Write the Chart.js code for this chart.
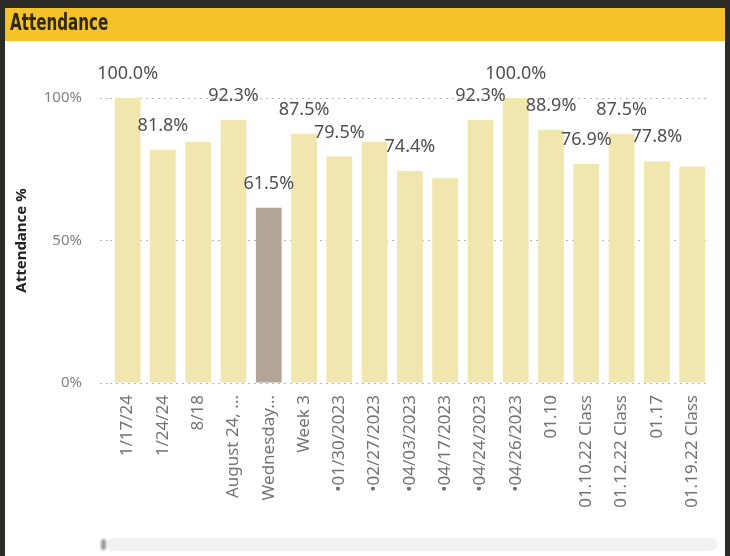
<!DOCTYPE html>
<html>
<head>
<meta charset="utf-8">
<script src="https://cdn.jsdelivr.net/npm/chart.js@4.4.1/dist/chart.umd.min.js"></script>
<style>
    body { margin: 0; background: #2b2b27; }
    #frame { position: relative; width: 730px; height: 556px; background: #2b2b27; overflow: hidden; }
    #panel { position: absolute; left: 5px; top: 8px; width: 720px; height: 548px; background: #fff; }
    #header { position: absolute; left: 0; top: 0; width: 720px; height: 33px; background: #f6c22a; }
    #header span { position: absolute; left: 5px; top: 1px; font-family: "DejaVu Sans Condensed", "DejaVu Sans", sans-serif; font-weight: bold; font-size: 23px; color: #302911; transform-origin: 0 50%; white-space: nowrap; }
    #chartBox { position: absolute; left: 0; top: 33px; width: 720px; height: 490px; }
    #track { position: absolute; left: 102px; top: 530px; width: 610px; height: 13px; background: #f1f1f1; border-radius: 6px; }
    #thumb { position: absolute; left: 96px; top: 531px; width: 5px; height: 11px; background: #9a9a9a; border-radius: 3px; filter: blur(1px); }
</style>
</head>
<body>
<div id="frame">
    <div id="panel">
        <div id="header"><span id="title">Attendance</span></div>
        <div id="chartBox"><canvas id="attendanceChart"></canvas></div>
        <div id="track"></div>
        <div id="thumb"></div>
    </div>
</div>
<script>
// chart data
const labels = ['1/17/24', '1/24/24', '8/18', 'August 24, ...', 'Wednesday...', 'Week 3',
    '•01/30/2023', '•02/27/2023', '•04/03/2023', '•04/17/2023', '•04/24/2023', '•04/26/2023',
    '01.10', '01.10.22 Class', '01.12.22 Class', '01.17', '01.19.22 Class'];
const attendance = [100.0, 81.8, 84.6, 92.3, 61.5, 87.5, 79.5, 84.6, 74.4, 71.8, 92.3, 100.0, 88.9, 76.9, 87.5, 77.8, 76.0];
// which bars have their value label visible
const showLabel = [true, true, false, true, true, true, true, false, true, false, true, true, true, true, true, true, false];
const highlighted = 'Wednesday...';
const yTicks = [0, 50, 100];

// squeeze the header title to the narrow look of the original
const title = document.getElementById('title');
title.style.transform = `scaleX(${98 / title.offsetWidth})`;

const barColors = labels.map(l => l === highlighted ? '#b3a698' : '#f2e6af');

// draws the % labels above the bars
const valueLabels = {
    id: 'valueLabels',
    afterDatasetsDraw(chart) {
        const ctx = chart.ctx;
        const meta = chart.getDatasetMeta(0);
        ctx.save();
        ctx.font = '18px "Noto Sans"';
        ctx.fillStyle = '#505050';
        ctx.textAlign = 'center';
        ctx.textBaseline = 'middle';
        meta.data.forEach((bar, i) => {
            if (!showLabel[i]) return;
            ctx.fillText(attendance[i].toFixed(1) + '%', bar.x, bar.y - 24);
        });
        ctx.restore();
    }
};

const ctx = document.getElementById('attendanceChart').getContext('2d');
new Chart(ctx, {
    type: 'bar',
    data: {
        labels: labels,
        datasets: [{
            label: 'Attendance %',
            data: attendance,
            backgroundColor: barColors,
            barPercentage: 0.73,
            categoryPercentage: 1
        }]
    },
    options: {
        responsive: true,
        maintainAspectRatio: false,
        animation: false,
        layout: { padding: { top: 57, right: 15, bottom: 0, left: 0 } },
        plugins: {
            legend: { display: false },
            tooltip: { enabled: false }
        },
        scales: {
            x: {
                grid: { display: false, drawTicks: false },
                border: { display: false },
                ticks: {
                    autoSkip: false,
                    minRotation: 90,
                    maxRotation: 90,
                    padding: 12,
                    color: '#737373',
                    font: { family: 'Noto Sans', size: 17 }
                },
                afterFit: (scale) => { scale.height = 148; }
            },
            y: {
                min: 0,
                max: 100,
                afterBuildTicks: (scale) => { scale.ticks = yTicks.map(v => ({ value: v })); },
                grid: {
                    color: '#b8b8b8',
                    lineWidth: 1,
                    tickLength: 10,
                    tickColor: '#b8b8b8',
                    tickBorderDash: [2, 4]
                },
                border: { display: false, dash: [2, 4] },
                ticks: {
                    padding: 18,
                    color: '#808080',
                    font: { family: 'Noto Sans', size: 15 },
                    callback: (v) => v + '%'
                },
                title: {
                    display: true,
                    text: 'Attendance %',
                    color: '#222222',
                    font: { family: 'Noto Sans', size: 15, weight: 'bold' },
                    padding: { top: 8, bottom: 0 }
                },
                afterFit: (scale) => { scale.width = 105; }
            }
        }
    },
    plugins: [valueLabels]
});
</script>
</body>
</html>
